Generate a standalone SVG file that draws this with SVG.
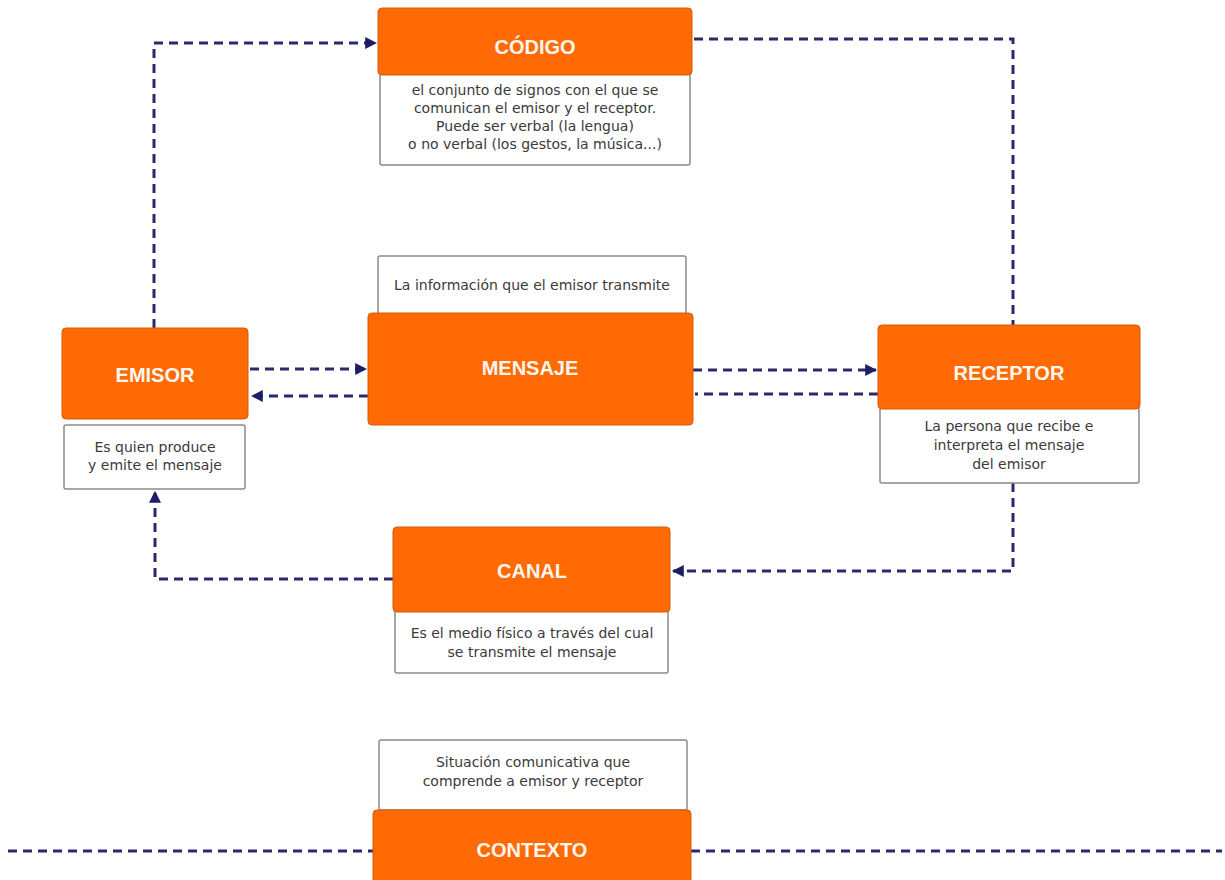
<svg xmlns="http://www.w3.org/2000/svg" width="1225" height="880" viewBox="0 0 1225 880">
<defs>
<style>
.hd{fill:#FF6A05;stroke:#D85A08;stroke-width:1}
.ds{fill:#fff;stroke:#8a8a8a;stroke-width:1.5}
.t{font-family:"Liberation Sans",Arial,sans-serif;font-weight:bold;font-size:20px;fill:#FFF6EE;text-anchor:middle}
.d{font-family:"DejaVu Sans","Liberation Sans",sans-serif;font-size:14px;fill:#3a3a3a;text-anchor:middle}
.c{fill:none;stroke:#2A2A6A;stroke-width:3;stroke-dasharray:9,6}
</style>
<marker id="ah" viewBox="0 0 10 10" refX="9" refY="5" markerWidth="4" markerHeight="4" orient="auto" markerUnits="strokeWidth">
<path d="M0,0 L10,5 L0,10 z" fill="#1E1E66"/>
</marker>
</defs>
<rect width="1225" height="880" fill="#fff"/>
<g id="connectors">
<path class="c" d="M154,328 V43 H376" marker-end="url(#ah)"/>
<path class="c" d="M694,39 H1013 V325"/>
<path class="c" d="M250,369 H366" marker-end="url(#ah)"/>
<path class="c" d="M368,396 H252" marker-end="url(#ah)"/>
<path class="c" d="M693,370 H876" marker-end="url(#ah)"/>
<path class="c" d="M878,394 H695"/>
<path class="c" d="M1013,483 V571 H673" marker-end="url(#ah)"/>
<path class="c" d="M393,579 H155 V492" marker-end="url(#ah)"/>
<path class="c" d="M8,851 H373"/>
<path class="c" d="M691,851 H1222"/>
</g>
<g id="codigo">
<rect class="ds" x="380" y="74" width="310" height="91" rx="2"/>
<rect class="hd" x="378" y="8" width="314" height="67" rx="4"/>
<text class="t" x="535" y="54">CÓDIGO</text>
<text class="d" x="535" y="95">el conjunto de signos con el que se</text>
<text class="d" x="535" y="113">comunican el emisor y el receptor.</text>
<text class="d" x="535" y="131">Puede ser verbal (la lengua)</text>
<text class="d" x="535" y="149">o no verbal (los gestos, la música...)</text>
</g>
<g id="emisor">
<rect class="ds" x="64" y="425" width="181" height="64" rx="2"/>
<rect class="hd" x="62" y="328" width="186" height="91" rx="4"/>
<text class="t" x="155" y="382">EMISOR</text>
<text class="d" x="155" y="452">Es quien produce</text>
<text class="d" x="155" y="470">y emite el mensaje</text>
</g>
<g id="mensaje">
<rect class="ds" x="378" y="256" width="308" height="58" rx="2"/>
<rect class="hd" x="368" y="313" width="325" height="112" rx="4"/>
<text class="d" x="532" y="290">La información que el emisor transmite</text>
<text class="t" x="530" y="375">MENSAJE</text>
</g>
<g id="receptor">
<rect class="ds" x="880" y="408" width="259" height="75" rx="2"/>
<rect class="hd" x="878" y="325" width="262" height="84" rx="4"/>
<text class="t" x="1009" y="380">RECEPTOR</text>
<text class="d" x="1009" y="431">La persona que recibe e</text>
<text class="d" x="1009" y="450">interpreta el mensaje</text>
<text class="d" x="1009" y="469">del emisor</text>
</g>
<g id="canal">
<rect class="ds" x="395" y="611" width="273" height="62" rx="2"/>
<rect class="hd" x="393" y="527" width="277" height="85" rx="4"/>
<text class="t" x="532" y="578">CANAL</text>
<text class="d" x="532" y="638">Es el medio físico a través del cual</text>
<text class="d" x="532" y="657">se transmite el mensaje</text>
</g>
<g id="contexto">
<rect class="ds" x="379" y="740" width="308" height="70" rx="2"/>
<rect class="hd" x="373" y="810" width="318" height="80" rx="4"/>
<text class="d" x="533" y="767">Situación comunicativa que</text>
<text class="d" x="533" y="786">comprende a emisor y receptor</text>
<text class="t" x="532" y="857">CONTEXTO</text>
</g>
</svg>
